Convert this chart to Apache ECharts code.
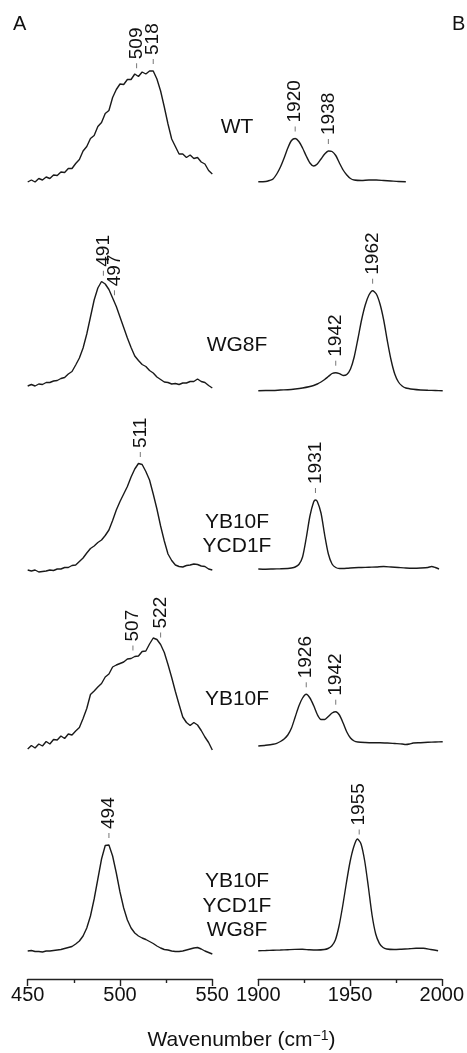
<!DOCTYPE html>
<html><head><meta charset="utf-8">
<script src="https://cdn.jsdelivr.net/npm/echarts@6/dist/echarts.min.js"></script>
<style>html,body{margin:0;padding:0;background:#fff}#c{width:467px;height:1053px}</style>
</head><body><div id="c"></div>
<script>
// ---------- DATA ----------
const waveA = [450,452,454,456,458,460,462,464,466,468,470,472,474,476,478,480,482,484,486,488,490,492,494,496,498,500,502,504,506,508,510,512,514,516,518,520,522,524,526,528,530,532,534,536,538,540,542,544,546,548,550];
const specA_WT = [3,5,3,6.5,5,8,6.5,10,9.5,13,12.5,16.5,16.5,21.5,25.5,34,38.5,46.5,49.5,58.5,62.5,71.5,74.5,87.5,95.5,101,100.5,105.5,105.5,111,108.5,113,111,114,114,106,94,78,61,46,38.5,31,31,27.5,30,26.5,27.5,23,21,14.5,11];
const specA_WG8F = [7,8.5,7,9,8.5,10.5,10.5,12,12.5,14.5,15.5,19,21.5,28,35,45,59,76,93,105,111.5,109,103.5,95,86.5,76,65.5,55,45.5,37,32.5,28.5,26.5,22.5,20,16,13.5,11,10.5,9,9.5,8.5,10,10,11.5,11.5,14,11.5,10.5,7.5,5];
const specA_YB10F_YCD1F = [6,5,6,4,4.5,5,6,5.5,7,7,8.5,8.5,10.5,11,14.5,18,23,27.5,30,33.5,36,40.5,46,55.5,66,74.5,82,89.5,99,107,112.5,111.5,104.5,96,82,67,50,35,22,15.5,11,9.5,9,10.5,11,12,11.5,10,9.5,7,6];
const specA_YB10F = [3,6.5,4,8,6,10.5,8,12.5,12,16,13.5,18,17,21,24.5,33.5,43.5,57.5,61,65,68.5,75,78,85,87,88.5,90,93,93.5,95.5,96,100.5,101,108,114,112.5,107.5,99.5,87.5,74.5,60.5,47.5,35,29.5,26.5,29.5,27,21.5,15,9.5,2];
const specA_TRIPLE = [4,4.5,3.5,3.5,3,4,4,4.5,5,5.5,6.5,7.5,8.5,11,14,19,27,39,56,76,96,109.5,110,99,82,63,47,35,27,22,19,17,15.5,13.5,11.5,9,7,5.5,5,4,3.5,3.5,4,5,6,7,7.5,6,4,2.5,1];

const specB_WT = [[1900,3.3],[1904,3.5],[1906,4.5],[1908,6],[1910,11],[1912,18],[1914,27],[1916,37],[1918,44.5],[1920,46.5],[1922,43.5],[1924,37],[1926,29],[1928,22],[1930,19],[1932,21],[1934,26],[1936,31],[1938,34],[1940,33.5],[1942,29.5],[1944,22],[1946,15],[1948,10],[1950,6.5],[1952,5],[1956,4.5],[1960,5],[1964,5],[1968,4.5],[1972,4],[1976,3.5],[1980,3.3]];
const specB_WG8F = [[1900,2.3],[1904,2.5],[1908,2.5],[1912,3],[1916,3.3],[1920,4],[1924,5],[1928,6.5],[1930,7.5],[1932,9],[1934,11],[1936,13.5],[1938,16.5],[1940,19.5],[1942,20.3],[1944,19.3],[1946,17.5],[1948,18.5],[1950,24],[1952,36],[1954,54],[1956,73],[1958,88],[1960,98],[1962,102.3],[1964,99],[1966,89],[1968,73],[1970,52],[1972,33],[1974,19],[1976,11],[1978,7],[1980,5],[1984,3.7],[1988,3],[1992,2.7],[1996,2.5],[2000,2.3]];
const specB_YB10F_YCD1F = [[1900,7],[1904,6.8],[1908,7],[1912,7.2],[1916,7.5],[1918,8],[1920,9],[1922,11.5],[1924,19],[1926,38],[1928,60],[1930,74],[1931,76],[1932,74.5],[1934,63],[1936,41],[1938,22],[1940,12],[1942,8.5],[1944,7.5],[1948,7.8],[1952,8.3],[1956,8.5],[1960,8.8],[1964,9],[1968,9.5],[1972,9],[1976,8.5],[1980,8],[1984,7.8],[1988,8],[1992,8.5],[1994,9.5],[1996,8.5],[1998,7]];
const specB_YB10F = [[1900,6],[1904,6.8],[1908,7.8],[1910,8.7],[1912,10.5],[1914,13],[1916,17],[1918,24],[1920,35],[1922,46],[1924,54],[1926,57.7],[1928,54],[1930,46.5],[1932,37.5],[1934,32.5],[1936,32.5],[1938,35.5],[1940,39],[1942,40.3],[1944,37],[1946,29],[1948,20],[1950,14],[1952,11],[1954,10],[1958,9.5],[1962,9.3],[1966,9.3],[1970,9],[1974,8.5],[1978,8],[1980,7.5],[1982,8],[1984,9],[1988,9.3],[1992,9.7],[1996,10],[2000,10.3]];
const specB_TRIPLE = [[1900,4.3],[1904,4.5],[1908,4.8],[1912,5],[1916,5.3],[1920,5.6],[1924,5.7],[1928,5.2],[1932,5],[1936,5.5],[1938,6.5],[1940,9],[1942,15],[1944,29],[1946,49],[1948,72],[1950,93],[1952,108],[1954,116],[1956,111],[1958,94],[1960,68],[1962,40],[1964,21],[1966,11.7],[1968,7.5],[1970,6],[1974,5.5],[1978,5.8],[1982,6.2],[1986,6.7],[1990,6.7],[1994,5.5],[1998,4.3]];

const rowNames = ['WT','WG8F','YB10F\nYCD1F','YB10F','YB10F\nYCD1F\nWG8F'];
const peaksA = [[509,518],[491,497],[511],[507,522],[494]];
const peaksB = [[1920,1938],[1942,1962],[1931],[1926,1942],[1955]];
const panelLetters = ['A','B'];
const axisTitle = 'Wavenumber (cm{sup|\u22121})';

// ---------- LAYOUT ----------
const FONT = '"Liberation Sans", Arial, Helvetica, sans-serif';
const specsA = [specA_WT, specA_WG8F, specA_YB10F_YCD1F, specA_YB10F, specA_TRIPLE];
const specsB = [specB_WT, specB_WG8F, specB_YB10F_YCD1F, specB_YB10F, specB_TRIPLE];
const rowBase = [185, 393, 576, 752, 955];
const rowLabelY = [127.5, 345, 534, 699, 906];
const H = 130;
const colA = {left: 27.7, width: 184.6, min: 450, max: 550};
const colB = {left: 258.3, width: 184.4, min: 1900, max: 2000};
const LINE = '#1a1a1a';

function valueAt(pairs, x) {
  for (let i = 0; i < pairs.length - 1; i++) {
    const a = pairs[i], b = pairs[i + 1];
    if (x >= a[0] && x <= b[0]) {
      const t = (x - a[0]) / (b[0] - a[0]);
      return a[1] + t * (b[1] - a[1]);
    }
  }
  return pairs[pairs.length - 1][1];
}

const grids = [], xAxes = [], yAxes = [], series = [];
[colA, colB].forEach((col, c) => {
  for (let r = 0; r < 5; r++) {
    grids.push({left: col.left, width: col.width, top: rowBase[r] - H, height: H});
    const last = r === 4;
    xAxes.push({
      type: 'value', gridIndex: c * 5 + r, min: col.min, max: col.max, interval: 50,
      show: last, offset: last ? 24 : 0,
      axisLine: {show: true, onZero: false, lineStyle: {color: '#222', width: 1.4}},
      axisTick: {show: true, length: 7, lineStyle: {color: '#222', width: 1.4}},
      minorTick: {show: true, splitNumber: 2, length: 4, lineStyle: {color: '#222', width: 1.4}},
      axisLabel: {fontSize: 20, color: '#111', fontFamily: FONT, margin: 6, formatter: v => String(v)},
      splitLine: {show: false}, minorSplitLine: {show: false}
    });
    yAxes.push({type: 'value', gridIndex: c * 5 + r, min: 0, max: H, show: false, splitLine: {show: false}});
  }
});

for (let r = 0; r < 5; r++) {
  const pairsA = waveA.map((x, j) => [x, specsA[r][j]]);
  const pairsB = specsB[r];
  [[pairsA, r, false, peaksA[r]], [pairsB, 5 + r, 0.25, peaksB[r]]].forEach(([pairs, idx, sm, pk]) => {
    series.push({
      type: 'line', xAxisIndex: idx, yAxisIndex: idx, data: pairs,
      showSymbol: false, symbol: 'none', smooth: sm, animation: false,
      lineStyle: {color: LINE, width: 1.4}
    });
    series.push({
      type: 'custom', xAxisIndex: idx, yAxisIndex: idx, animation: false,
      data: pk.map(p => [p, valueAt(pairs, p)]),
      renderItem: function (params, api) {
        const pt = api.coord([api.value(0), api.value(1)]);
        const x = pt[0], yb = pt[1] - 7;
        return {type: 'group', children: [
          {type: 'line', shape: {x1: x, y1: yb, x2: x, y2: yb - 5}, style: {stroke: '#777', lineWidth: 1}},
          {type: 'text', x: x, y: yb - 9, rotation: Math.PI / 2,
           style: {text: String(api.value(0)), fontSize: 19, fontFamily: FONT, fill: '#111', align: 'left', verticalAlign: 'middle'}}
        ]};
      }
    });
  });
}

const graphic = [];
rowNames.forEach((name, r) => {
  graphic.push({type: 'text', x: 237, y: rowLabelY[r],
    style: {text: name, fontSize: 21, lineHeight: 24.5, fontFamily: FONT, fill: '#111', align: 'center', verticalAlign: 'middle'}});
});
graphic.push({type: 'text', x: 13, y: 14, style: {text: panelLetters[0], fontSize: 20, fontFamily: FONT, fill: '#111', align: 'left', verticalAlign: 'top'}});
graphic.push({type: 'text', x: 452, y: 14, style: {text: panelLetters[1], fontSize: 20, fontFamily: FONT, fill: '#111', align: 'left', verticalAlign: 'top'}});
graphic.push({type: 'text', x: 241.5, y: 1040,
  style: {text: axisTitle, fontSize: 21, fontFamily: FONT, fill: '#111', align: 'center', verticalAlign: 'middle',
    rich: {sup: {fontSize: 14, fontFamily: FONT, fill: '#111', verticalAlign: 'top', lineHeight: 14}}}});

const chart = echarts.init(document.getElementById('c'), null, {renderer: 'canvas'});
chart.setOption({animation: false, backgroundColor: '#fff', grid: grids, xAxis: xAxes, yAxis: yAxes, series: series, graphic: graphic});
</script></body></html>
